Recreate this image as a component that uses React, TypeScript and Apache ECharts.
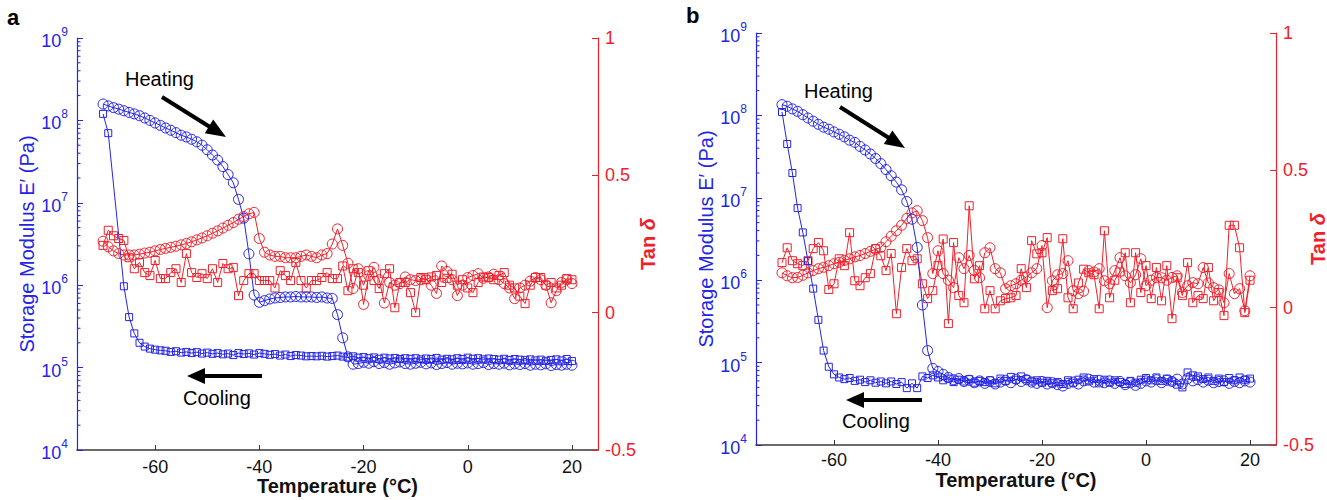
import React, { useEffect, useRef } from "react";
import * as echarts from "echarts";

// ---------- data ----------
const TEMPS = [
  -70, -69, -68, -67, -66, -65, -64, -63, -62, -61,
  -60, -59, -58, -57, -56, -55, -54, -53, -52, -51,
  -50, -49, -48, -47, -46, -45, -44, -43, -42, -41,
  -40, -39, -38, -37, -36, -35, -34, -33, -32, -31,
  -30, -29, -28, -27, -26, -25, -24, -23, -22, -21,
  -20, -19, -18, -17, -16, -15, -14, -13, -12, -11,
  -10, -9, -8, -7, -6, -5, -4, -3, -2, -1,
  0, 1, 2, 3, 4, 5, 6, 7, 8, 9,
  10, 11, 12, 13, 14, 15, 16, 17, 18, 19, 20,
];

const X_TICKS = [-60, -40, -20, 0, 20];
const LOG_TICKS = [1e4, 1e5, 1e6, 1e7, 1e8, 1e9];

// Panel a — storage modulus (Pa)
const A_E_HEAT = [
  1.58e8, 1.5e8, 1.43e8, 1.37e8, 1.31e8, 1.25e8, 1.2e8, 1.14e8, 1.07e8, 1.0e8,
  9.3e7, 8.7e7, 8.1e7, 7.6e7, 7.1e7, 6.6e7, 6.3e7, 5.9e7, 5.5e7, 5.0e7,
  4.4e7, 3.8e7, 3.3e7, 2.75e7, 2.2e7, 1.75e7, 1.1e7, 6.5e6, 2.4e6, 7.6e5,
  6.2e5, 6.5e5, 6.8e5, 7.0e5, 7.1e5, 7.2e5, 7.2e5, 7.3e5, 7.2e5, 7.2e5,
  7.2e5, 7.1e5, 7.2e5, 7.0e5, 6.9e5, 4.4e5, 2.3e5, 1.35e5, 1.1e5, 1.12e5,
  1.16e5, 1.13e5, 1.18e5, 1.12e5, 1.15e5, 1.1e5, 1.14e5, 1.17e5, 1.12e5, 1.1e5,
  1.13e5, 1.16e5, 1.11e5, 1.14e5, 1.09e5, 1.12e5, 1.15e5, 1.1e5, 1.13e5, 1.11e5,
  1.14e5, 1.1e5, 1.12e5, 1.15e5, 1.09e5, 1.12e5, 1.1e5, 1.13e5, 1.08e5, 1.11e5,
  1.09e5, 1.12e5, 1.07e5, 1.1e5, 1.08e5, 1.11e5, 1.06e5, 1.09e5, 1.07e5, 1.1e5, 1.07e5,
];
const A_E_COOL = [
  1.2e8, 7.0e7, null, null, 9.7e5, 4.1e5, 2.6e5, 2.0e5, 1.8e5, 1.7e5,
  1.65e5, 1.62e5, 1.6e5, 1.55e5, 1.58e5, 1.52e5, 1.55e5, 1.5e5, 1.54e5, 1.48e5,
  1.52e5, 1.47e5, 1.5e5, 1.45e5, 1.48e5, 1.42e5, 1.5e5, 1.46e5, 1.49e5, 1.44e5,
  1.5e5, 1.47e5, 1.43e5, 1.46e5, 1.4e5, 1.44e5, 1.38e5, 1.42e5, 1.4e5, 1.37e5,
  1.38e5, 1.37e5, 1.39e5, 1.36e5, 1.38e5, 1.4e5, 1.36e5, 1.33e5, 1.37e5, 1.32e5,
  1.34e5, 1.3e5, 1.33e5, 1.28e5, 1.32e5, 1.29e5, 1.31e5, 1.27e5, 1.3e5, 1.28e5,
  1.3e5, 1.26e5, 1.29e5, 1.27e5, 1.31e5, 1.25e5, 1.28e5, 1.26e5, 1.3e5, 1.27e5,
  1.32e5, 1.28e5, 1.3e5, 1.26e5, 1.29e5, 1.27e5, 1.25e5, 1.28e5, 1.24e5, 1.27e5,
  1.25e5, 1.23e5, 1.26e5, 1.22e5, 1.25e5, 1.21e5, 1.24e5, 1.26e5, 1.22e5, 1.27e5, 1.2e5,
];
// Panel a — tan delta
const A_TAN_HEAT = [
  0.26, 0.24, 0.225, 0.215, 0.21, 0.21, 0.21, 0.213, 0.217, 0.22,
  0.225, 0.23, 0.234, 0.238, 0.242, 0.247, 0.252, 0.258, 0.265, 0.272,
  0.28, 0.289, 0.298, 0.308, 0.318, 0.328, 0.34, 0.35, 0.36, 0.365,
  0.27, 0.22, 0.21, 0.205, 0.205, 0.2, 0.2, 0.2, 0.205, 0.21,
  0.205, 0.2, 0.21, 0.215, 0.25, 0.305, 0.245, 0.18, 0.088, 0.16,
  0.03, 0.135, 0.165, 0.12, 0.035, 0.11, 0.1, 0.106, 0.13, 0.12,
  0.117, 0.12, 0.124, 0.1, 0.07, 0.17, 0.15, 0.12, 0.062, 0.1,
  0.128, 0.135, 0.142, 0.125, 0.13, 0.14, 0.12, 0.106, 0.09, 0.051,
  0.09, 0.1, 0.115, 0.128, 0.12, 0.1, 0.036, 0.08, 0.11, 0.12, 0.106,
];
const A_TAN_COOL = [
  0.245, 0.3, 0.28, 0.27, 0.263, 0.2, 0.16, 0.183, 0.146, 0.135,
  0.19, 0.124, 0.124, 0.146, 0.16, 0.11, 0.215, 0.146, 0.128, 0.142,
  0.124, 0.16, 0.11, 0.179, 0.16, 0.164, 0.062, 0.117, 0.142, 0.142,
  0.117, 0.117, 0.117, 0.09, 0.153, 0.135, 0.117, 0.183, 0.117, 0.09,
  0.117, 0.117, 0.128, 0.146, 0.124, 0.124, 0.17, 0.08, 0.16, 0.146,
  0.1, 0.153, 0.117, 0.088, 0.142, 0.16, 0.018, 0.11, 0.11, 0.073,
  0.0, 0.128, 0.12, 0.13, 0.135, 0.11, 0.125, 0.14, 0.1, 0.12,
  0.09, 0.073, 0.11, 0.13, 0.128, 0.12, 0.135, 0.146, 0.1, 0.09,
  0.06, 0.033, 0.1, 0.128, 0.128, 0.1, 0.11, 0.09, 0.1, 0.124, 0.12,
];

// Panel b — storage modulus (Pa)
const B_E_HEAT = [
  1.35e8, 1.29e8, 1.2e8, 1.12e8, 1.02e8, 9.3e7, 8.5e7, 7.8e7, 7.2e7, 6.8e7,
  6.3e7, 5.9e7, 5.5e7, 5.0e7, 4.7e7, 4.2e7, 3.8e7, 3.4e7, 3.0e7, 2.6e7,
  2.2e7, 1.85e7, 1.55e7, 1.25e7, 9.0e6, 5.5e6, 2.5e6, 5.0e5, 1.4e5, 8.5e4,
  7.8e4, 7.2e4, 6.6e4, 6.2e4, 6.4e4, 5.9e4, 6.1e4, 5.7e4, 6.0e4, 5.6e4,
  5.9e4, 5.5e4, 5.8e4, 6.1e4, 5.7e4, 6.3e4, 5.9e4, 6.2e4, 5.8e4, 5.6e4,
  5.9e4, 5.5e4, 5.7e4, 5.4e4, 5.2e4, 5.6e4, 5.8e4, 5.5e4, 6.0e4, 6.3e4,
  5.8e4, 6.1e4, 5.7e4, 6.0e4, 5.6e4, 5.9e4, 5.4e4, 5.7e4, 5.3e4, 5.6e4,
  6.0e4, 5.8e4, 6.2e4, 5.7e4, 6.1e4, 5.9e4, 6.3e4, 5.5e4, 6.4e4, 6.0e4,
  6.2e4, 5.8e4, 6.1e4, 5.7e4, 5.9e4, 6.0e4, 5.6e4, 5.9e4, 5.7e4, 6.0e4, 5.8e4,
];
const B_E_COOL = [
  1.1e8, 4.5e7, 2.0e7, 7.5e6, 3.8e6, 1.7e6, 7.9e5, 3.3e5, 1.4e5, 8.9e4,
  7.2e4, 6.6e4, 6.3e4, 6.5e4, 6.0e4, 6.2e4, 5.8e4, 6.1e4, 5.7e4, 5.9e4,
  5.6e4, 5.9e4, 5.5e4, 5.8e4, 4.9e4, 5.6e4, 4.9e4, 6.8e4, 6.5e4, 7.0e4,
  6.6e4, 6.1e4, 6.4e4, 5.8e4, 6.2e4, 5.9e4, 6.3e4, 5.7e4, 6.0e4, 5.8e4,
  6.1e4, 5.6e4, 6.4e4, 6.0e4, 6.7e4, 6.2e4, 6.8e4, 6.3e4, 5.9e4, 6.1e4,
  5.7e4, 6.0e4, 5.6e4, 5.8e4, 5.5e4, 6.1e4, 5.7e4, 6.2e4, 6.6e4, 5.9e4,
  6.3e4, 5.6e4, 6.2e4, 5.7e4, 6.1e4, 5.8e4, 5.5e4, 6.0e4, 5.7e4, 6.2e4,
  6.5e4, 6.1e4, 6.6e4, 6.0e4, 6.4e4, 5.9e4, 5.4e4, 5.0e4, 7.6e4, 7.0e4,
  6.8e4, 6.3e4, 6.6e4, 6.0e4, 6.4e4, 5.8e4, 6.5e4, 6.1e4, 6.6e4, 6.2e4, 6.4e4,
];
// Panel b — tan delta
const B_TAN_HEAT = [
  0.127, 0.116, 0.109, 0.11, 0.118, 0.127, 0.135, 0.142, 0.147, 0.153,
  0.16, 0.165, 0.172, 0.178, 0.185, 0.19, 0.197, 0.205, 0.212, 0.22,
  0.24, 0.26, 0.28, 0.3, 0.325, 0.345, 0.353, 0.317, 0.255, 0.124,
  0.207, 0.124, 0.1, 0.073, 0.182, 0.142, 0.19, 0.135, 0.109, 0.2,
  0.218, 0.142, 0.127, 0.069, 0.08, 0.087, 0.1, 0.112, 0.127, 0.142,
  0.226, 0.0, 0.098, 0.12, 0.124, 0.171, 0.062, 0.051, 0.06, 0.135,
  0.13, 0.142, 0.098, 0.087, 0.135, 0.182, 0.116, 0.091, 0.12, 0.178,
  0.08, 0.1, 0.11, 0.109, 0.1, 0.11, 0.116, 0.055, 0.08, 0.091,
  0.087, 0.146, 0.09, 0.073, 0.065, 0.018, 0.124, 0.051, 0.069, -0.011, 0.116,
];
const B_TAN_COOL = [
  0.164, 0.218, 0.171, 0.16, 0.153, 0.171, 0.215, 0.237, 0.207, 0.066,
  0.087, 0.178, 0.153, 0.273, 0.098, 0.08, 0.109, 0.124, 0.215, 0.189,
  0.135, 0.197, -0.022, 0.146, 0.215, 0.171, 0.178, 0.087, 0.033, 0.062,
  0.153, 0.25, -0.058, 0.237, 0.044, 0.018, 0.371, 0.105, 0.153, -0.004,
  0.062, -0.004, 0.025, 0.033, 0.036, 0.044, 0.142, 0.073, 0.244, 0.196,
  0.2, 0.255, 0.062, 0.069, 0.251, 0.036, -0.004, 0.09, 0.14, 0.127,
  0.12, -0.004, 0.28, 0.036, 0.1, 0.13, 0.2, 0.018, 0.2, 0.055,
  0.153, 0.033, 0.146, 0.025, 0.153, -0.04, 0.109, 0.044, 0.164, 0.018,
  0.044, 0.033, 0.146, 0.025, 0.055, -0.029, 0.3, 0.3, 0.218, -0.018, 0.1,
];

const MINOR_MULT = [2, 3, 4, 5, 6, 7, 8, 9];
const DECADES = [1e4, 1e5, 1e6, 1e7, 1e8];

// ---------- style ----------
const FONT = '"Liberation Sans", Arial, Helvetica, sans-serif';
const BLUE = "#2424e6";
const RED = "#f0202a";
const X_MIN = -75;
const X_MAX = 25;

const pair = (vals: (number | null)[]) =>
  TEMPS.map((t, i) => [t, vals[i]]).filter((p) => p[1] !== null && p[1] !== undefined);

const App: React.FC = () => {
  const ref = useRef<HTMLDivElement>(null);

  useEffect(() => {
    if (!ref.current) return;
    const chart = echarts.init(ref.current, undefined, { renderer: "svg" });

    const grids = [
      { left: 77, top: 38, width: 521, height: 412, outerBoundsMode: "none", containLabel: false },
      { left: 756, top: 33, width: 520, height: 412, outerBoundsMode: "none", containLabel: false },
    ];

    const xAxes = grids.map((_, i) => ({
      type: "value",
      gridIndex: i,
      min: X_MIN,
      max: X_MAX,
      axisLine: { show: true, onZero: false, lineStyle: { color: "#3a3a3a", width: 1.6 } },
      axisTick: { show: true, inside: true, length: 5, customValues: X_TICKS, lineStyle: { color: "#333" } },
      axisLabel: {
        customValues: X_TICKS,
        color: "#111",
        fontSize: 18,
        fontFamily: FONT,
        margin: i === 0 ? 8 : 6,
      },
      splitLine: { show: false },
      name: "Temperature (°C)",
      nameLocation: "middle",
      nameMoveOverlap: false,
      nameGap: i === 0 ? 26 : 25,
      nameTextStyle: { color: "#111", fontSize: 20, fontWeight: "bold", fontFamily: FONT },
    }));

    const logAxis = (gi: number) => ({
      type: "log",
      logBase: 10,
      gridIndex: gi,
      position: "left",
      min: 1e4,
      max: 1e9,
      axisLine: { show: true, onZero: false, lineStyle: { color: BLUE, width: 1.2 } },
      axisTick: { show: true, inside: true, length: 6, customValues: LOG_TICKS, lineStyle: { color: BLUE } },
      axisLabel: {
        customValues: LOG_TICKS,
        margin: 9,
        formatter: (v: number) => `{b|10}{s|${Math.round(Math.log10(v))}}`,
        rich: {
          b: { fontSize: 18, color: BLUE, fontFamily: FONT, lineHeight: 24, verticalAlign: "bottom" },
          s: { fontSize: 12, color: BLUE, fontFamily: FONT, lineHeight: 12, verticalAlign: "top" },
        },
      },
      splitLine: { show: false },
      name: "Storage Modulus E\u2032 (Pa)",
      nameLocation: "middle",
      nameMoveOverlap: false,
      nameRotate: 90,
      nameGap: 40,
      nameTextStyle: { color: BLUE, fontSize: 20, fontFamily: FONT },
    });

    const tanAxis = (gi: number) => ({
      type: "value",
      gridIndex: gi,
      position: "right",
      min: -0.5,
      max: 1,
      interval: 0.5,
      axisLine: { show: true, onZero: false, lineStyle: { color: RED, width: 1.2 } },
      axisTick: { show: true, inside: true, length: 6, lineStyle: { color: RED } },
      axisLabel: { color: RED, fontSize: 18, fontFamily: FONT, margin: 7, formatter: (v: number) => String(v) },
      splitLine: { show: false },
      name: "Tan {i|δ}",
      nameLocation: "middle",
      nameMoveOverlap: false,
      nameRotate: 90,
      nameGap: gi === 0 ? 40 : 32,
      nameTextStyle: {
        color: RED,
        fontSize: 20,
        fontWeight: "bold",
        fontFamily: FONT,
        rich: { i: { color: RED, fontSize: 20, fontStyle: "italic", fontWeight: "bold", fontFamily: FONT } },
      },
    });

    const yAxes = [logAxis(0), tanAxis(0), logAxis(1), tanAxis(1)];

    const lineSeries = (
      data: (number | null)[],
      xi: number,
      yi: number,
      color: string,
      symbol: string,
      size: number
    ) => ({
      type: "line",
      xAxisIndex: xi,
      yAxisIndex: yi,
      data: pair(data),
      symbol,
      symbolSize: size,
      showAllSymbol: true,
      lineStyle: { color, width: 1 },
      itemStyle: { color: "rgba(0,0,0,0)", borderColor: color, borderWidth: 1 },
      emphasis: { disabled: true },
      z: 3,
    });

    const minorData = DECADES.flatMap((d) => MINOR_MULT.map((m) => [X_MIN, d * m]));
    const minorSeries = (xi: number, yi: number) => ({
      type: "custom",
      xAxisIndex: xi,
      yAxisIndex: yi,
      data: minorData,
      silent: true,
      clip: false,
      renderItem: (_p: any, api: any) => {
        const pt = api.coord([api.value(0), api.value(1)]);
        return {
          type: "line",
          shape: { x1: pt[0], y1: pt[1], x2: pt[0] + 3.5, y2: pt[1] },
          style: { stroke: BLUE, lineWidth: 1 },
        };
      },
    });

    const series = [
      lineSeries(A_TAN_COOL, 0, 1, RED, "rect", 8),
      lineSeries(A_TAN_HEAT, 0, 1, RED, "circle", 10),
      lineSeries(A_E_COOL, 0, 0, BLUE, "rect", 7),
      lineSeries(A_E_HEAT, 0, 0, BLUE, "circle", 10),
      lineSeries(B_TAN_COOL, 1, 3, RED, "rect", 8),
      lineSeries(B_TAN_HEAT, 1, 3, RED, "circle", 10),
      lineSeries(B_E_COOL, 1, 2, BLUE, "rect", 7),
      lineSeries(B_E_HEAT, 1, 2, BLUE, "circle", 10),
      minorSeries(0, 0),
      minorSeries(1, 2),
    ];

    const txt = (text: string, x: number, y: number, size: number, weight = "normal") => ({
      type: "text",
      x,
      y,
      style: { text, fill: "#000", fontSize: size, fontFamily: FONT, fontWeight: weight, verticalAlign: "middle" },
    });
    const arrow = (tail: number[], base: number[], p1: number[], tip: number[], p2: number[]) => [
      { type: "line", shape: { x1: tail[0], y1: tail[1], x2: base[0], y2: base[1] }, style: { stroke: "#000", lineWidth: 4 } },
      { type: "polygon", shape: { points: [p1, tip, p2] }, style: { fill: "#000" } },
    ];

    const graphic = [
      txt("a", 7, 17, 22, "bold"),
      txt("b", 686, 15, 22, "bold"),
      txt("Heating", 125, 79, 20),
      txt("Cooling", 183, 398, 20),
      txt("Heating", 804, 91, 20),
      txt("Cooling", 842, 421, 20),
      ...arrow([162, 97], [210, 127], [204.8, 133.2], [226, 137], [213.2, 119.6]),
      ...arrow([262, 376], [203, 376], [205, 368], [187, 376], [205, 384]),
      ...arrow([840, 107], [889, 138], [883.8, 144.1], [905, 148], [892.4, 130.5]),
      ...arrow([922, 400], [862, 400], [864, 392], [846, 400], [864, 408]),
    ];

    chart.setOption({
      animation: false,
      backgroundColor: "#fff",
      textStyle: { fontFamily: FONT },
      grid: grids,
      xAxis: xAxes,
      yAxis: yAxes,
      series,
      graphic,
    } as any);

    return () => chart.dispose();
  }, []);

  return (
    <div
      ref={ref}
      style={{ position: "fixed", left: 0, top: 0, width: 1327, height: 500, background: "#fff" }}
    />
  );
};

export default App;
